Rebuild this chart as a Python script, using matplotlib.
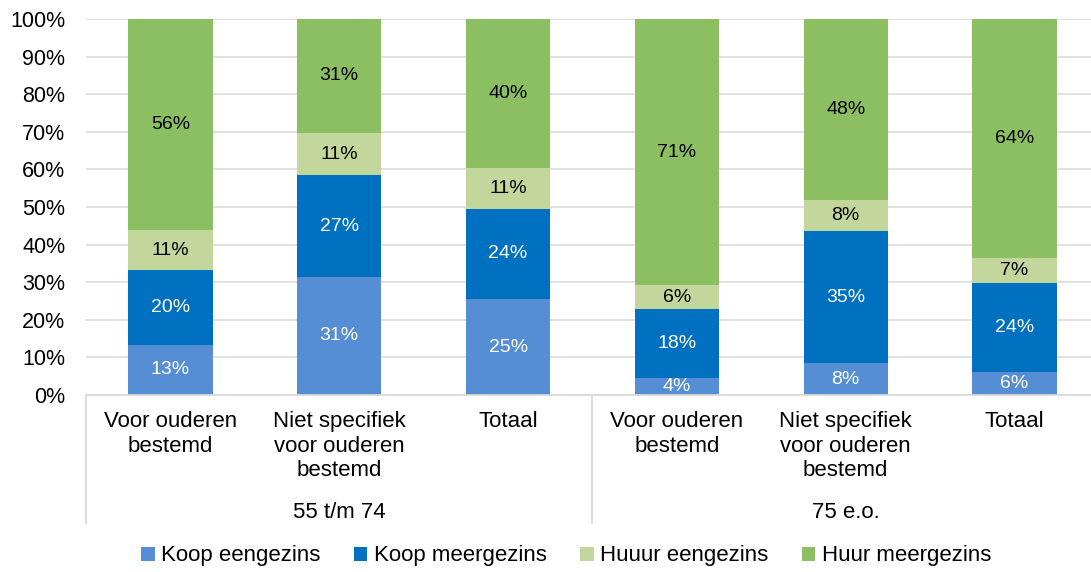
import matplotlib
matplotlib.use("Agg")
import matplotlib.pyplot as plt
import matplotlib.transforms as mtransforms
import numpy as np

plt.rcParams['font.family'] = ['Liberation Sans', 'DejaVu Sans']

# -- Data ------------------------------------------------------------------
categories = ["Voor ouderen\nbestemd", "Niet specifiek\nvoor ouderen\nbestemd", "Totaal",
              "Voor ouderen\nbestemd", "Niet specifiek\nvoor ouderen\nbestemd", "Totaal"]
groups = ["55 t/m 74", "75 e.o."]
series = ["Koop eengezins", "Koop meergezins", "Huuur eengezins", "Huur meergezins"]

koop_een = [13.4, 31.4, 25.4, 4.4, 8.4, 6.2]
koop_meer = [19.8, 27.0, 24.2, 18.4, 35.2, 23.5]
huur_een = [10.6, 11.2, 10.8, 6.4, 8.2, 6.8]
huur_meer = [56.2, 30.6, 39.6, 70.8, 48.2, 63.5]

colors = ["#558ED5", "#0070C0", "#C3D69B", "#8CBF62"]
text_colors = ["white", "white", "black", "black"]

# -- Plot ------------------------------------------------------------------
fig = plt.figure(figsize=(10.91, 5.72), dpi=100)
W, H = 1091, 572
left, right, top, bottom = 86, 1099, 19, 395
ax = fig.add_axes([left / W, 1 - bottom / H, (right - left) / W, (bottom - top) / H])

x = np.arange(len(categories))
base = np.zeros(len(categories))
for vals, col, tcol, name in zip([koop_een, koop_meer, huur_een, huur_meer],
                                 colors, text_colors, series):
    vals = np.array(vals)
    ax.bar(x, vals, bottom=base, width=0.5, color=col, label=name, zorder=2)
    for xi, b, v in zip(x, base, vals):
        ax.text(xi, b + v / 2, f"{v:.0f}%", ha='center', va='center',
                fontsize=14, color=tcol, zorder=3)
    base += vals

ax.set_xlim(-0.5, len(categories) - 0.5)
ax.set_ylim(0, 100)
ax.set_yticks(range(0, 101, 10))
ax.set_yticklabels([f"{v}%" for v in range(0, 101, 10)], fontsize=15.5)
ax.tick_params(axis='y', length=0, pad=15)
ax.set_xticks([])
ax.grid(axis='y', color='#D9D9D9', linewidth=1.1, zorder=0)
for s in ['top', 'right', 'left']:
    ax.spines[s].set_visible(False)
ax.spines['bottom'].set_color('#D9D9D9')
ax.spines['bottom'].set_linewidth(1.3)

# -- Two level category axis ---------------------------------------------
trans = mtransforms.blended_transform_factory(ax.transData, fig.transFigure)
for xi, lab in zip(x, categories):
    ax.text(xi, 1 - 411 / H, lab, transform=trans, ha='center', va='top',
            fontsize=16, linespacing=1.22)
for gi, g in enumerate(groups):
    ax.text(1 + 3 * gi, 1 - 512 / H, g, transform=trans, ha='center', va='center',
            fontsize=16)
for xs in [-0.5, 2.5, 5.5]:
    ax.plot([xs, xs], [1 - 395 / H, 1 - 523 / H], transform=trans, color='#D9D9D9',
            linewidth=1.3, clip_on=False)

# -- Legend --------------------------------------------------------------
handles, labels = ax.get_legend_handles_labels()
fig.legend(handles, labels, loc='center', bbox_to_anchor=(0.519, 1 - 556 / H), ncol=4,
           frameon=False, fontsize=16, handlelength=0.6, handleheight=0.6,
           handletextpad=0.3, columnspacing=1.5)

fig.savefig("out.png", dpi=100)
